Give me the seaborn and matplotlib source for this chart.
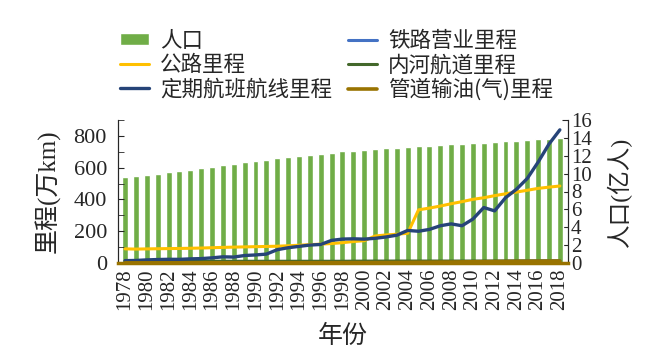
import numpy as np
import pandas as pd
import seaborn as sns
from matplotlib import pyplot as plt
from matplotlib.ticker import MultipleLocator

years = list(range(1978, 2019))

# 人口 (亿人)
population = [9.63, 9.75, 9.87, 10.01, 10.17, 10.30, 10.44, 10.59, 10.75, 10.93,
              11.10, 11.27, 11.43, 11.58, 11.72, 11.85, 11.99, 12.11, 12.24, 12.36,
              12.48, 12.58, 12.67, 12.76, 12.85, 12.92, 13.00, 13.08, 13.14, 13.21,
              13.28, 13.35, 13.41, 13.47, 13.54, 13.61, 13.68, 13.75, 13.83, 13.90,
              13.95]

# 里程 (万km)
railway = [5.17, 5.30, 5.33, 5.39, 5.29, 5.41, 5.45, 5.52, 5.58, 5.58,
           5.61, 5.69, 5.79, 5.78, 5.81, 5.86, 5.90, 6.24, 6.49, 6.60,
           6.64, 6.74, 6.87, 7.01, 7.19, 7.30, 7.44, 7.54, 7.71, 7.80,
           7.97, 8.55, 9.12, 9.32, 9.76, 10.31, 11.18, 12.10, 12.40, 12.70,
           13.17]
highway = [89.0, 87.6, 88.8, 89.8, 90.7, 91.5, 92.7, 94.2, 96.3, 98.2,
           100.0, 101.4, 102.8, 104.1, 105.7, 108.4, 111.8, 115.7, 118.6, 122.6,
           127.9, 135.2, 140.3, 169.8, 176.5, 181.0, 187.1, 334.5, 345.7, 358.4,
           373.0, 386.1, 400.8, 410.6, 423.8, 435.6, 446.4, 457.7, 469.6, 477.4,
           484.7]
inland = [13.60, 10.78, 10.85, 10.87, 10.86, 10.89, 10.93, 10.91, 10.94, 10.98,
          10.94, 10.90, 10.92, 10.97, 10.97, 11.02, 11.02, 11.06, 11.08, 10.98,
          11.03, 11.65, 11.93, 12.15, 12.16, 12.40, 12.33, 12.33, 12.34, 12.35,
          12.28, 12.37, 12.42, 12.46, 12.50, 12.59, 12.63, 12.70, 12.71, 12.70,
          12.71]
airline = [14.89, 16.00, 19.53, 21.82, 23.27, 22.91, 26.02, 27.72, 32.43, 38.91,
           37.38, 47.19, 50.68, 55.91, 83.66, 96.08, 104.56, 112.90, 116.65, 142.50,
           150.58, 152.22, 150.29, 155.36, 163.77, 174.95, 204.94, 199.85, 211.35, 234.30,
           246.18, 234.51, 276.51, 349.06, 328.01, 410.60, 463.72, 531.72, 634.81, 748.30,
           837.98]
pipeline = [0.83, 0.91, 0.87, 0.97, 1.04, 1.08, 1.10, 1.17, 1.30, 1.38,
            1.43, 1.51, 1.59, 1.62, 1.59, 1.64, 1.68, 1.72, 1.93, 2.04,
            2.31, 2.49, 2.47, 2.76, 2.98, 3.26, 3.82, 4.40, 4.81, 5.45,
            5.83, 6.91, 7.85, 8.33, 9.16, 9.85, 10.57, 10.87, 11.34, 11.93,
            12.23]

line_series = [
    ("铁路营业里程", railway, "#4472C4"),
    ("公路里程", highway, "#FFC000"),
    ("内河航道里程", inland, "#43682B"),
    ("定期航班航线里程", airline, "#264478"),
    ("管道输油(气)里程", pipeline, "#997300"),
]

sns.set_style("ticks")
plt.rcParams['font.family'] = ['Liberation Serif', 'Noto Sans CJK SC']
cjk = ['Noto Sans CJK SC', 'Liberation Serif']

fig = plt.figure(figsize=(6.53, 3.58), dpi=100)
ax = fig.add_axes([118 / 653, 1 - 263 / 358, 450 / 653, 143 / 358])
ax2 = ax.twinx()

pop_df = pd.DataFrame({"year": years, "pop": population})
sns.barplot(data=pop_df, x="year", y="pop", native_scale=True, width=0.55,
            color="#70AD47", saturation=1, ax=ax2, label="人口")

lw = {"铁路营业里程": 2.2, "公路里程": 2.2, "内河航道里程": 2.2,
      "定期航班航线里程": 2.4, "管道输油(气)里程": 2.6}
for name, vals, col in line_series:
    df = pd.DataFrame({"year": years, "km": vals})
    sns.lineplot(data=df, x="year", y="km", color=col, lw=lw[name], ax=ax, label=name)

# lines in front of the bars
ax.set_zorder(ax2.get_zorder() + 1)
ax.patch.set_visible(False)

ax.set_xlim(1977.35, 2018.75)
ax.set_ylim(0, 900)
ax2.set_ylim(0, 16)
ax.yaxis.set_major_locator(MultipleLocator(200))
ax.yaxis.set_minor_locator(MultipleLocator(100))
ax2.yaxis.set_major_locator(MultipleLocator(2))
ax.set_xticks(years[::2])
ax.set_xticklabels([str(y) for y in years[::2]], rotation=90)

ax.tick_params(axis='y', which='both', direction='in', labelsize=16, length=4, pad=8)
ax.tick_params(axis='x', length=0, labelsize=15, pad=4)
ax2.tick_params(axis='y', direction='in', labelsize=15, length=4, pad=2)

for a in (ax, ax2):
    a.spines['top'].set_visible(False)
ax.spines['bottom'].set_color("#997300")
ax.spines['bottom'].set_linewidth(2.5)
ax2.spines['bottom'].set_visible(False)

ax.set_xlabel("年份", fontsize=18, family=cjk, labelpad=9)
ax.set_ylabel("里程(万km)", fontsize=18, labelpad=9)
ax2.set_ylabel("人口(亿人)", fontsize=17, labelpad=11)

ax.get_legend().remove()
if ax2.get_legend():
    ax2.get_legend().remove()

h1, l1 = ax.get_legend_handles_labels()
h2, l2 = ax2.get_legend_handles_labels()
hd = dict(zip(l1 + l2, h1 + h2))
order = ["人口", "公路里程", "定期航班航线里程", "铁路营业里程", "内河航道里程", "管道输油(气)里程"]
fig.legend([hd[k] for k in order], order, ncol=2, loc='upper left',
           bbox_to_anchor=(120 / 653, 1 - 30 / 358), frameon=False,
           prop={'family': cjk, 'size': 15.5}, handlelength=1.35, handleheight=0.5,
           handletextpad=0.5, labelspacing=0.1, columnspacing=0.75, borderpad=0,
           borderaxespad=0)

fig.savefig("out.png", dpi=100)
